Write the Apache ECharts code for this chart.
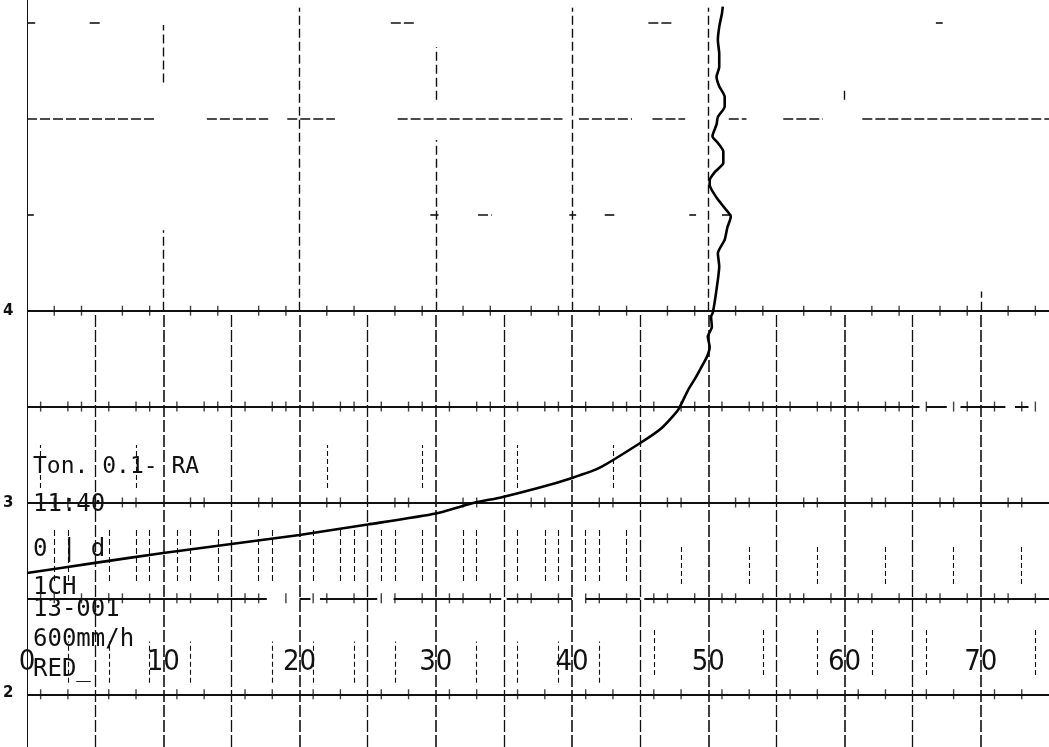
<!DOCTYPE html>
<html>
<head>
<meta charset="utf-8">
<style>
  html, body { margin: 0; padding: 0; background: #ffffff; }
  #chart { width: 1049px; height: 747px; }
</style>
<script src="https://cdn.jsdelivr.net/npm/echarts@6/dist/echarts.min.js"></script>
</head>
<body>
<div id="chart"></div>
<script>
// Recorder trace: pen position (x, 0–75 scale) against chart row (y, one row per grid division)
const traceX = [0, 5, 10, 15, 20, 25, 30, 32.9, 34.7, 37.5, 40, 42, 45, 46.6, 47.8, 48.5, 49.1, 49.6,
  49.9, 50.1, 49.96, 50.26, 50.2, 50.33, 50.6, 50.8, 50.7, 51.2, 51.4, 51.65, 51.2, 50.6, 50.1, 50.1,
  50.5, 51.1, 51.1, 50.7, 50.3, 50.6, 50.7, 51.2, 51.2, 50.8, 50.6, 50.8, 50.8, 50.7, 50.8, 51.0, 51.06];
const traceY = [1.265, 1.37, 1.473, 1.567, 1.661, 1.77, 1.885, 2.0, 2.05, 2.15, 2.256, 2.36, 2.62, 2.78, 2.97, 3.17, 3.31, 3.44,
  3.52, 3.62, 3.73, 3.83, 3.94, 3.98, 4.22, 4.46, 4.6, 4.74, 4.87, 4.98, 5.07, 5.18, 5.31, 5.36,
  5.45, 5.54, 5.66, 5.75, 5.82, 5.94, 6.02, 6.13, 6.23, 6.34, 6.44, 6.54, 6.68, 6.82, 6.96, 7.1, 7.17];

// Scale labels along the bottom
const scaleTicks = [0, 10, 20, 30, 40, 50, 60, 70];

// Recorder stamp printed in the lower-left corner
const stampLines = ['Ton. 0.1- RA', '11:40', '0 | d', '1CH', '13-001', '600mm/h', 'RED_'];
// Paper row numbers on the left margin
const rowNumbers = [['4', 4], ['3', 2], ['2', 0]];

// Chart-paper rulings
const divisionX = [0, 5, 10, 15, 20, 25, 30, 35, 40, 45, 50, 55, 60, 65, 70];
const solidRows = [0, 2, 4];
// broken rulings: [row, fromX, toX]
const brokenRows = [
  [1, 0, 17.6], [1, 20, 20.8], [1, 21.5, 25.7], [1, 26.9, 34.8], [1, 35.2, 40], [1, 41, 45], [1, 45.3, 75],
  [3, 0, 65.5], [3, 66.0, 67.5], [3, 68.5, 71.8], [3, 72.5, 73.5],
  [5, 0, 0.5], [5, 29.6, 30.2], [5, 33.1, 34.1], [5, 39.8, 40.3], [5, 42.4, 43.1], [5, 48.6, 49.1], [5, 51, 51.7],
  [6, 0, 9.5], [6, 13.2, 17.7], [6, 19.1, 22.6], [6, 27.2, 39.3], [6, 40.5, 44.4], [6, 45.9, 48.3],
  [6, 51.5, 52.8], [6, 55.5, 58.4], [6, 61.3, 75],
  [7, 0, 0.6], [7, 4.6, 5.4], [7, 26.7, 28.5], [7, 45.6, 47.3], [7, 66.7, 67.2]
];
// upper vertical rulings: [x, fromRow, toRow]
const upperColumns = [
  [10, 6.38, 6.98], [10, 4.0, 4.84], [20, 4.0, 7.16], [30, 6.2, 6.75], [30, 4.0, 5.78],
  [40, 4.0, 7.16], [50, 4.0, 7.16], [60, 6.2, 6.32], [70, 4.0, 4.2]
];

const Y_MIN = -0.55, Y_MAX = 7.24;

const ink = '#111111';
const gridLines = [];
// left edge
gridLines.push({ coords: [[0, Y_MIN], [0, Y_MAX]], lineStyle: { width: 2, type: 'solid' } });
// lower columns, every 5 divisions
divisionX.filter(v => v > 0).forEach(v => {
  gridLines.push({ coords: [[v, Y_MIN], [v, 4]], lineStyle: { width: v % 10 === 0 ? 1.6 : 1.3, type: [12, 3] } });
});
upperColumns.forEach(([x, a, b]) => {
  gridLines.push({ coords: [[x, a], [x, b]], lineStyle: { width: 1.4, type: [9, 4] } });
});
solidRows.forEach(r => {
  gridLines.push({ coords: [[0, r], [75, r]], lineStyle: { width: 2, type: 'solid' } });
});
brokenRows.forEach(([r, a, b]) => {
  gridLines.push({ coords: [[a, r], [b, r]], lineStyle: { width: r >= 5 ? 1.6 : 2, type: r >= 5 ? [10, 3] : 'solid' } });
});

// short paper ticks on the lower rulings, and broken division marks under the trace
const paperTicks = [];
for (let r = 0; r <= 4; r++) {
  for (let x = 1; x < 75; x++) {
    if (x % 5 !== 0 && (x * 7 + r * 3) % 5 < 3) paperTicks.push([x, r]);
  }
}
for (let x = 1; x <= 44; x++) {
  if (x % 5 === 0) continue;
  if (x % 3 !== 1) gridLines.push({ coords: [[x, 1.18], [x, 1.72]], lineStyle: { width: 1.1, type: [6, 3] } });
  if (x % 7 === 1) gridLines.push({ coords: [[x, 2.15], [x, 2.6]], lineStyle: { width: 1.1, type: [5, 3] } });
  if (x % 3 === 0) gridLines.push({ coords: [[x, 0.12], [x, 0.55]], lineStyle: { width: 1.1, type: [5, 3] } });
}
for (let x = 46; x <= 74; x++) {
  if (x % 5 === 0) continue;
  if (x % 4 === 2) gridLines.push({ coords: [[x, 0.2], [x, 0.7]], lineStyle: { width: 1.1, type: [5, 3] } });
  if (x % 5 === 3) gridLines.push({ coords: [[x, 1.15], [x, 1.55]], lineStyle: { width: 1.1, type: [5, 3] } });
}

const traceData = traceX.map((x, i) => [x, traceY[i]]);

const chart = echarts.init(document.getElementById('chart'), null, { renderer: 'canvas' });
const stampFont = '"DejaVu Sans Mono", "Liberation Mono", monospace';
const stampTops = [456, 493, 538, 576, 598, 628, 658];
const stampSizes = [23, 24, 24, 24, 24, 24, 24];
const graphics = stampLines.map((t, i) => ({
  type: 'text', left: 33, top: stampTops[i], silent: true, z: 10,
  style: { text: t, fill: ink, fontFamily: stampFont, fontSize: stampSizes[i] }
}));
const rowTop = { 4: 304, 2: 496, 0: 686 };
rowNumbers.forEach(([t, r]) => graphics.push({
  type: 'text', left: 3, top: rowTop[r], silent: true,
  style: { text: t, fill: ink, fontFamily: 'DejaVu Sans', fontWeight: 'bold', fontSize: 15 }
}));

chart.setOption({
  animation: false,
  backgroundColor: '#ffffff',
  grid: { left: 27, right: 0, top: 0, bottom: 0, containLabel: false },
  xAxis: {
    type: 'value', min: 0, max: 75, interval: 10,
    axisLine: { show: false }, axisTick: { show: false }, splitLine: { show: false },
    axisLabel: {
      inside: true, margin: 70, color: ink, fontSize: 29,
      fontFamily: '"Liberation Sans Narrow", "DejaVu Sans Condensed", "Liberation Sans", sans-serif',
      showMaxLabel: false,
      formatter: v => scaleTicks.includes(v) ? String(v) : ''
    }
  },
  yAxis: { type: 'value', min: Y_MIN, max: Y_MAX, show: false, splitLine: { show: false } },
  series: [
    {
      type: 'lines', coordinateSystem: 'cartesian2d', silent: true, z: 1,
      lineStyle: { color: ink, opacity: 1 },
      data: gridLines
    },
    {
      type: 'scatter', silent: true, z: 2, symbol: 'rect', symbolSize: [1.4, 10],
      itemStyle: { color: ink }, data: paperTicks
    },
    {
      type: 'line', silent: true, z: 5, symbol: 'none', smooth: 0.2,
      lineStyle: { color: '#000000', width: 2.6 },
      data: traceData
    }
  ],
  graphic: graphics
});
</script>
</body>
</html>
